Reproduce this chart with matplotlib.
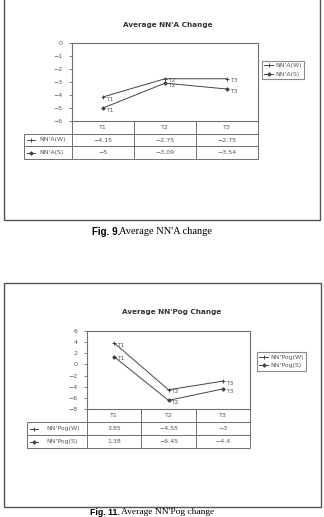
import matplotlib
matplotlib.use("Agg")
import matplotlib.pyplot as plt
from matplotlib.patches import Rectangle

plt.rcParams['font.family'] = ['DejaVu Sans']

W, H = 324, 517

periods = ["T1", "T2", "T3"]

nna_names = ["NN'A(W)", "NN'A(S)"]
nna_w = [-4.15, -2.75, -2.75]
nna_s = [-5, -3.09, -3.54]
nna_ticks = [0, -1, -2, -3, -4, -5, -6]

pog_names = ["NN'Pog(W)", "NN'Pog(S)"]
pog_w = [3.85, -4.55, -3]
pog_s = [1.38, -6.45, -4.4]
pog_ticks = [6, 4, 2, 0, -2, -4, -6, -8]

GRAY = "#6f6f6f"
TXT = "#555555"


def rect(x0, y0, x1, y1):
    return [x0 / W, 1 - y1 / H, (x1 - x0) / W, (y1 - y0) / H]


def fmt(v):
    s = ("%.2f" % v).rstrip("0").rstrip(".")
    return s.replace("-", "\u2212")


def chart(fig, frame, plot, tbl_left, tbl_bottom, leg, title, title_y,
          names, series, ticks, caption, cap_x, cap_y, cap_fs):
    # outer frame
    fig.patches.append(Rectangle((frame[0] / W, 1 - frame[3] / H),
                                 (frame[2] - frame[0]) / W,
                                 (frame[3] - frame[1]) / H,
                                 transform=fig.transFigure, fill=False,
                                 edgecolor="#555555", lw=1.0))
    fig.text((plot[0] + plot[2]) / 2 / W + 0.01, 1 - title_y / H, title,
             ha="center", va="center", fontsize=5.2, fontweight="bold",
             color="#333333")

    ax = fig.add_axes(rect(*plot))
    markers = ["+", "D"]
    sizes = [3.5, 1.8]
    for vals, m, ms, nm in zip(series, markers, sizes, names):
        ax.plot(range(len(periods)), vals, color="#444444", lw=0.7,
                marker=m, ms=ms, mew=0.7, label=nm)
        for i, v in enumerate(vals):
            ax.annotate(periods[i], (i, v), xytext=(2, -1.5),
                        textcoords="offset points", fontsize=4.3,
                        color=TXT, va="center")
    ax.set_xlim(-0.5, len(periods) - 0.5)
    ax.set_ylim(min(ticks), max(ticks))
    ax.set_yticks(ticks)
    ax.set_yticklabels([fmt(t) for t in ticks])
    ax.tick_params(axis="y", labelsize=4.5, colors=GRAY, labelcolor=TXT,
                   length=2, width=0.6, pad=5)
    ax.set_xticks([])
    for sp in ax.spines.values():
        sp.set_color(GRAY)
        sp.set_linewidth(0.8)

    # data table under the plot area
    pw = plot[2] - plot[0]
    ph = plot[3] - plot[1]
    cells = [[""] + periods]
    for nm, vals in zip(names, series):
        cells.append([nm] + [fmt(v) for v in vals])
    lw_col = plot[0] - tbl_left
    dw = pw / len(periods)
    tb = ax.table(cellText=cells, cellLoc="center",
                  colWidths=[lw_col] + [dw] * len(periods),
                  bbox=[-lw_col / pw, -(tbl_bottom - plot[3]) / ph,
                        (plot[2] - tbl_left) / pw, (tbl_bottom - plot[3]) / ph])
    tb.auto_set_font_size(False)
    tb.set_fontsize(4.5)
    for (r, c), cell in tb.get_celld().items():
        cell.set_edgecolor(GRAY)
        cell.set_linewidth(0.7)
        cell.get_text().set_color(TXT)
        if r == 0 and c == 0:
            cell.visible_edges = ""
        if c == 0 and r > 0:
            cell.get_text().set_ha("left")
            cell.PAD = 0.32
    # keys in the row label cells
    rh = (tbl_bottom - plot[3]) / 3
    for k, (m, ms) in enumerate(zip(markers, sizes)):
        yc = plot[3] + rh * (k + 1.5)
        ya = 1 - (yc - plot[1]) / ph
        xa0 = (tbl_left + 3 - plot[0]) / pw
        xa1 = (tbl_left + 11 - plot[0]) / pw
        ax.plot([xa0, xa1], [ya, ya], color="#444444", lw=0.7,
                transform=ax.transAxes, clip_on=False)
        ax.plot([(xa0 + xa1) / 2], [ya], color="#444444", marker=m, ms=ms,
                mew=0.7, transform=ax.transAxes, clip_on=False)

    handles, labels = ax.get_legend_handles_labels()
    lg = fig.legend(handles, labels, loc="center",
                    bbox_to_anchor=((leg[0] + leg[2]) / 2 / W,
                                    1 - (leg[1] + leg[3]) / 2 / H),
                    fontsize=4.5, frameon=True, fancybox=False,
                    handlelength=1.4, handletextpad=0.4, borderpad=0.4,
                    labelspacing=0.5, borderaxespad=0)
    lg.get_frame().set_edgecolor(GRAY)
    lg.get_frame().set_linewidth(0.8)
    for t in lg.get_texts():
        t.set_color(TXT)

    fig.text(cap_x[0] / W, 1 - cap_y / H, caption[0], ha="left", va="top",
             fontsize=cap_fs, fontweight="bold", family="Liberation Sans")
    fig.text(cap_x[1] / W, 1 - cap_y / H, caption[1], ha="left", va="top",
             fontsize=cap_fs + 0.5, family="Liberation Serif")


fig = plt.figure(figsize=(W / 100, H / 100), dpi=100)

chart(fig, (4, -2, 320, 220), (72, 43, 258, 121), 24, 159,
      (258, 58, 308, 82), "Average NN'A Change", 25,
      nna_names, [nna_w, nna_s], nna_ticks,
      ("Fig. 9.", "Average NN'A change"), (92, 119), 227, 7)

chart(fig, (4, 283, 321, 507), (87, 331, 250, 409), 27, 448,
      (252, 350, 311, 373), "Average NN'Pog Change", 312,
      pog_names, [pog_w, pog_s], pog_ticks,
      ("Fig. 11.", "Average NN'Pog change"), (90, 121), 508, 6.3)

fig.savefig("out.png", dpi=100)
